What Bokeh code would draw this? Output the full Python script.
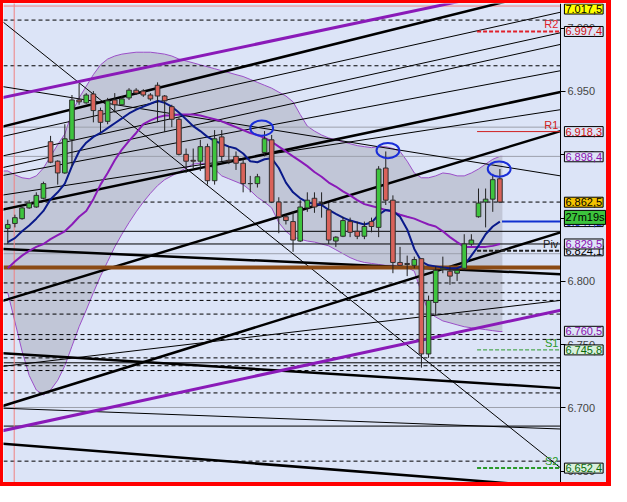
from bokeh.plotting import figure
from bokeh.models import Range1d, LinearAxis, FixedTicker, Label, ColumnDataSource, NumeralTickFormatter
from bokeh.embed import file_html
from bokeh.resources import INLINE
from bokeh.core.properties import value

# ---------------- data ----------------
opens = [6.8418, 6.8457, 6.8495, 6.8580, 6.8587, 6.8656, 6.9103, 6.8949, 6.8856, 6.9118,
         6.9433, 6.9410, 6.9480, 6.9349, 6.9264, 6.9433, 6.9395, 6.9449, 6.9510, 6.9503,
         6.9472, 6.9549, 6.9464, 6.9380, 6.9280, 6.9003, 6.8956, 6.8949, 6.9064, 6.8795,
         6.9141, 6.8956, 6.8987, 6.8933, 6.8772, 6.8772, 6.9018, 6.9118, 6.8626, 6.8510,
         6.8472, 6.8318, 6.8580, 6.8656, 6.8618, 6.8564, 6.8318, 6.8356, 6.8472, 6.8395,
         6.8356, 6.8472, 6.8426, 6.8895, 6.8641, 6.8149, 6.8141, 6.8126, 6.8179, 6.7426,
         6.7833, 6.8095, 6.8080, 6.8064, 6.8103, 6.8295, 6.8510, 6.8626, 6.8649, 6.8810]
highs = [6.8487, 6.8526, 6.8587, 6.8641, 6.8703, 6.8787, 6.9149, 6.8956, 6.9241, 6.9472,
         6.9564, 6.9487, 6.9503, 6.9372, 6.9449, 6.9487, 6.9464, 6.9526, 6.9526, 6.9518,
         6.9487, 6.9572, 6.9472, 6.9395, 6.9295, 6.9049, 6.9049, 6.9118, 6.9087, 6.9195,
         6.9195, 6.9064, 6.9026, 6.8964, 6.8833, 6.8849, 6.9187, 6.9156, 6.8664, 6.8526,
         6.8549, 6.8641, 6.8703, 6.8703, 6.8703, 6.8618, 6.8356, 6.8510, 6.8503, 6.8472,
         6.8472, 6.8503, 6.8910, 6.9026, 6.8679, 6.8272, 6.8203, 6.8195, 6.8179, 6.7887,
         6.8118, 6.8195, 6.8118, 6.8103, 6.8372, 6.8372, 6.8733, 6.8733, 6.8849, 6.8887]
lows = [6.8295, 6.8426, 6.8487, 6.8572, 6.8580, 6.8649, 6.8933, 6.8764, 6.8849, 6.8910,
        6.9395, 6.9403, 6.9256, 6.9179, 6.9241, 6.9333, 6.9387, 6.9433, 6.9472, 6.9457,
        6.9426, 6.9256, 6.9179, 6.9218, 6.8995, 6.8856, 6.8895, 6.8872, 6.8764, 6.8764,
        6.8949, 6.8926, 6.8880, 6.8703, 6.8703, 6.8741, 6.8987, 6.8618, 6.8380, 6.8449,
        6.8233, 6.8310, 6.8549, 6.8541, 6.8503, 6.8295, 6.8272, 6.8349, 6.8349, 6.8333,
        6.8333, 6.8387, 6.8349, 6.8603, 6.8064, 6.8126, 6.8041, 6.8103, 6.7318, 6.7395,
        6.7733, 6.8064, 6.7972, 6.8003, 6.8087, 6.8280, 6.8503, 6.8426, 6.8549, 6.8618]
closes = [6.8449, 6.8503, 6.8580, 6.8618, 6.8679, 6.8772, 6.8941, 6.8856, 6.9126, 6.9433,
          6.9418, 6.9472, 6.9349, 6.9256, 6.9426, 6.9395, 6.9441, 6.9510, 6.9487, 6.9472,
          6.9441, 6.9464, 6.9426, 6.9280, 6.9003, 6.8949, 6.8949, 6.9064, 6.8795, 6.9126,
          6.8987, 6.8949, 6.8933, 6.8772, 6.8772, 6.8826, 6.9126, 6.8626, 6.8510, 6.8480,
          6.8326, 6.8587, 6.8641, 6.8587, 6.8618, 6.8326, 6.8349, 6.8480, 6.8387, 6.8356,
          6.8433, 6.8433, 6.8887, 6.8641, 6.8149, 6.8126, 6.8133, 6.8172, 6.7426, 6.7849,
          6.8087, 6.8103, 6.8041, 6.8087, 6.8295, 6.8326, 6.8618, 6.8649, 6.8803, 6.8626]

ma_fast = [6.8310, 6.8341, 6.8395, 6.8441, 6.8495, 6.8556, 6.8649, 6.8703, 6.8772, 6.8910,
           6.9026, 6.9095, 6.9141, 6.9172, 6.9210, 6.9249, 6.9287, 6.9326, 6.9356, 6.9380,
           6.9403, 6.9426, 6.9410, 6.9380, 6.9333, 6.9280, 6.9226, 6.9187, 6.9141, 6.9110,
           6.9087, 6.9064, 6.9049, 6.9010, 6.8949, 6.8941, 6.8964, 6.8972, 6.8895, 6.8780,
           6.8703, 6.8656, 6.8626, 6.8610, 6.8603, 6.8564, 6.8533, 6.8503, 6.8480, 6.8464,
           6.8449, 6.8464, 6.8526, 6.8564, 6.8556, 6.8510, 6.8410, 6.8256, 6.8156, 6.8126,
           6.8118, 6.8110, 6.8103, 6.8103, 6.8126, 6.8203, 6.8280, 6.8372, 6.8433, 6.8472]
ma_mid = [6.8103, 6.8156, 6.8203, 6.8241, 6.8272, 6.8295, 6.8333, 6.8364, 6.8395, 6.8449,
          6.8510, 6.8556, 6.8649, 6.8764, 6.8856, 6.8956, 6.9041, 6.9110, 6.9172, 6.9241,
          6.9272, 6.9295, 6.9310, 6.9310, 6.9318, 6.9318, 6.9318, 6.9310, 6.9295, 6.9280,
          6.9264, 6.9241, 6.9218, 6.9195, 6.9172, 6.9156, 6.9133, 6.9103, 6.9064, 6.9026,
          6.8987, 6.8949, 6.8910, 6.8864, 6.8826, 6.8780, 6.8749, 6.8710, 6.8679, 6.8641,
          6.8610, 6.8595, 6.8580, 6.8564, 6.8549, 6.8526, 6.8510, 6.8495, 6.8472, 6.8449,
          6.8433, 6.8395, 6.8349, 6.8310, 6.8272, 6.8272, 6.8272, 6.8272, 6.8280, 6.8295]
band_up = [6.8872, 6.8841, 6.8818, 6.8810, 6.8833, 6.8895, 6.8987, 6.9080, 6.9164, 6.9333,
           6.9449, 6.9541, 6.9633, 6.9710, 6.9756, 6.9780, 6.9795, 6.9803, 6.9810, 6.9810,
           6.9810, 6.9803, 6.9795, 6.9780, 6.9756, 6.9741, 6.9726, 6.9710, 6.9695, 6.9680,
           6.9664, 6.9649, 6.9633, 6.9618, 6.9595, 6.9572, 6.9549, 6.9526, 6.9495, 6.9464,
           6.9418, 6.9318, 6.9226, 6.9187, 6.9156, 6.9133, 6.9118, 6.9103, 6.9087, 6.9072,
           6.9064, 6.9056, 6.9064, 6.9064, 6.9049, 6.9026, 6.8949, 6.8856, 6.8818, 6.8818,
           6.8833, 6.8856, 6.8849, 6.8833, 6.8833, 6.8856, 6.8887, 6.8926, 6.8964, 6.8987]
band_dn = [6.7910, 6.7680, 6.7449, 6.7256, 6.7141, 6.7103, 6.7141, 6.7218, 6.7333, 6.7487,
           6.7641, 6.7772, 6.7910, 6.8041, 6.8156, 6.8272, 6.8372, 6.8464, 6.8549, 6.8626,
           6.8695, 6.8756, 6.8803, 6.8833, 6.8864, 6.8895, 6.8926, 6.8933, 6.8926, 6.8887,
           6.8833, 6.8810, 6.8787, 6.8764, 6.8718, 6.8664, 6.8626, 6.8580, 6.8464, 6.8395,
           6.8349, 6.8333, 6.8318, 6.8310, 6.8295, 6.8280, 6.8249, 6.8218, 6.8187, 6.8164,
           6.8149, 6.8141, 6.8133, 6.8126, 6.8126, 6.8118, 6.8110, 6.8080, 6.7910, 6.7756,
           6.7718, 6.7687, 6.7672, 6.7656, 6.7641, 6.7633, 6.7626, 6.7618, 6.7610, 6.7603]

# horizontal levels (price)
dashed_levels = [7.0064, 6.9703, 6.8626, 6.7987, 6.7910, 6.7849, 6.7741, 6.7579, 6.7541,
                 6.7395, 6.7333, 6.7295, 6.7118, 6.6579]
gray_levels = [6.9218, 6.8987, 6.8218, 6.7003]
black_levels = [6.8395, 6.8295, 6.7356, 6.6856]
brown_level = 6.8110
top_red_level = 7.0175
red_vline_x = 0.9

# pivot levels
piv_names = ["R2", "R1", "Piv", "S1", "S2"]
piv_values = [6.9974, 6.9183, 6.8241, 6.7458, 6.6524]
piv_colors = ["#e0202a", "#d02020", "#202020", "#2a9a2a", "#2a9a2a"]
piv_widths = [2, 1, 2, 1, 2]
piv_dashes = ["4 2", "solid", "4 2", "4 2", "4 2"]

# trendlines (x0, y0, x1, y1) in bar index / price
thick_x0 = [-1.0, -1.0, -1.0, -1.0, -1.0, -1.0, -1.0]
thick_y0 = [6.9218, 6.8564, 6.7841, 6.7010, 6.8256, 6.7433, 6.6718]
thick_x1 = [77.5, 77.5, 77.5, 77.5, 77.5, 77.5, 77.5]
thick_y1 = [7.0318, 6.9495, 6.9187, 6.8387, 6.8056, 6.7156, 6.6372]
thin_x0 = [-1.0, -1.0, -1.0, -1.0, -1.0, -1.0, -1.0, -1.0, -1.0]
thin_y0 = [7.0064, 6.9141, 6.8987, 6.8895, 6.8833, 6.8679, 6.9541, 6.7326, 6.6998]
thin_x1 = [77.5, 77.5, 77.5, 77.5, 77.5, 77.5, 77.5, 77.5, 77.5]
thin_y1 = [6.6526, 7.0126, 6.9964, 6.9872, 6.9664, 6.9356, 6.8833, 6.7849, 6.6833]
purple_x0 = [-1.0, -1.0]
purple_y0 = [6.9449, 6.6816]
purple_x1 = [77.5, 77.5]
purple_y1 = [7.0380, 6.7772]

# right-hand price boxes (drawn in this order, later ones on top)
box_prices = [6.8472, 6.8241, 7.0175, 6.9974, 6.9183, 6.8984, 6.8625, 6.8505, 6.8295, 6.7605, 6.7458, 6.6524]
box_texts = ["6.847,2", "6.824,1", "7.017,5", "6.997,4", "6.918,3", "6.898,4", "6.862,5", "27m19s",
             "6.829,5", "6.760,5", "6.745,8", "6.652,4"]
box_tcolors = ["#1030d0", "#000000", "#000000", "#d01010", "#d01010", "#8a10b0", "#000000", "#000000",
               "#8a10b0", "#8a10b0", "#0a6a0a", "#0a6a0a"]
box_fills = ["#dde4f6", "#dde4f6", "#ffff00", "#dde4f6", "#dde4f6", "#dde4f6", "#f3c300", "#3cc43c",
             "#dde4f6", "#dde4f6", "#d8f0dc", "#d8f0dc"]
box_shift = [0, 0, -3, 0, 0, 0, 0, 0, 0, 0, 0, 0]

# blue circles (index, price)
circle_x = [35.6, 53.3, 68.9]
circle_y = [6.9210, 6.9033, 6.8887]

BG = "#dce4f7"
n = len(opens)
idx = list(range(n))
XL, XA, XR = -0.6, 77.5, 85.07

p = figure(width=611, height=486, output_backend="svg", toolbar_location=None,
           x_range=Range1d(XL, XR), y_range=Range1d(6.6355, 7.0195),
           background_fill_color=BG, border_fill_color=BG,
           min_border_left=0, min_border_top=0, min_border_bottom=0, min_border_right=0,
           styles={"border-style": "solid", "border-color": "#ff0000", "border-width": "3px 5px 4px 3px"})
p.xaxis.visible = False
p.yaxis.visible = False
p.grid.visible = False
p.outline_line_color = None

ax = LinearAxis(ticker=FixedTicker(ticks=[6.65, 6.70, 6.75, 6.80, 6.85, 6.90, 6.95, 7.00]),
                formatter=NumeralTickFormatter(format="0.000"), fixed_location=XA)
ax.axis_line_color = "black"
ax.major_tick_line_color = "black"
ax.major_tick_out = 5
ax.major_tick_in = 0
ax.minor_tick_line_color = None
ax.major_label_text_font = "Liberation Sans"
ax.major_label_text_font_size = "11px"
ax.major_label_standoff = 2
p.add_layout(ax, "right")

# band
bx = [XL] + idx + [69.35]
bu = [band_up[0]] + band_up + [band_up[-1]]
bd = [band_dn[0]] + band_dn + [band_dn[-1]]
p.varea(x=bx, y1=bd, y2=bu, fill_color="#bcc1d1", fill_alpha=0.85)
p.line(bx, bu, line_color="#9b4fc8", line_width=1)
p.line(bx, bd, line_color="#9b4fc8", line_width=1)

def hlines(levels, **kw):
    p.segment(x0=[XL] * len(levels), y0=levels, x1=[XA] * len(levels), y1=levels, **kw)

hlines(gray_levels, line_color="#9ca0ac", line_width=1)
hlines(black_levels, line_color="#000000", line_width=1)
hlines(dashed_levels, line_color="#000000", line_width=1, line_dash="4 3")
hlines([top_red_level], line_color="#f08080", line_width=1)
p.segment(x0=[red_vline_x], y0=[6.6], x1=[red_vline_x], y1=[7.05], line_color="#f08080", line_width=1)

# trendlines
p.segment(x0=thin_x0, y0=thin_y0, x1=thin_x1, y1=thin_y1, line_color="black", line_width=1)
p.segment(x0=thick_x0, y0=thick_y0, x1=thick_x1, y1=thick_y1, line_color="black", line_width=2.5)
p.segment(x0=purple_x0, y0=purple_y0, x1=purple_x1, y1=purple_y1, line_color="#8a1ab8", line_width=3)

hlines([brown_level], line_color="#8b4a14", line_width=4)

for nm, pv, col, lw, ds in zip(piv_names, piv_values, piv_colors, piv_widths, piv_dashes):
    p.segment(x0=[65.8], y0=[pv], x1=[XA], y1=[pv], line_color=col, line_width=lw, line_dash=ds)
    p.text(x=[77.2], y=[pv + 0.0008], text=[nm], text_color=col, text_font=value("Liberation Sans"),
           text_font_size="11px", text_align="right", text_baseline="bottom")

# MAs
p.line(idx, ma_mid, line_color="#8a1ab8", line_width=2)
p.line(idx, ma_fast, line_color="#0a1a8a", line_width=2)
p.segment(x0=[69.3], y0=[ma_fast[-1]], x1=[XA], y1=[ma_fast[-1]], line_color="#1030d0", line_width=2)

# candles
inc = [c >= o for o, c in zip(opens, closes)]
src = ColumnDataSource(dict(x=idx, o=opens, h=highs, l=lows, c=closes,
                            top=[max(o, c) for o, c in zip(opens, closes)],
                            bot=[min(o, c) for o, c in zip(opens, closes)],
                            col=["#3ec43e" if i else "#d9625a" for i in inc]))
p.segment(x0="x", y0="h", x1="x", y1="l", source=src, line_color="#202020", line_width=1)
p.vbar(x="x", top="top", bottom="bot", width=0.65, fill_color="col", line_color="#303030", line_width=1, source=src)

p.ellipse(x=circle_x, y=circle_y, width=3.2, height=0.012, fill_color=None, line_color="#1a2ed8", line_width=2)

for pr, tx, tc, fc, sh in zip(box_prices, box_texts, box_tcolors, box_fills, box_shift):
    p.add_layout(Label(x=78.05, y=pr, y_offset=sh, text=tx, text_color=tc, text_font="Liberation Sans",
                       text_font_size="11px", text_baseline="middle",
                       background_fill_color=fc, border_line_color="#000000", padding=1))

open("out.html", "w").write(file_html(p, INLINE))
